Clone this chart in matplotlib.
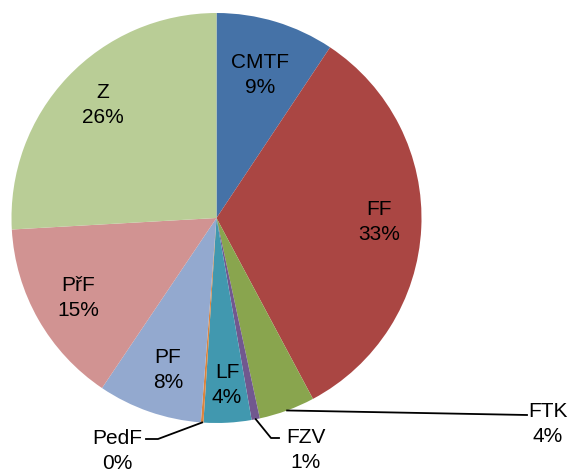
import matplotlib
matplotlib.use("Agg")
import matplotlib.pyplot as plt
import numpy as np

# faculty shares
faculties = ['CMTF', 'FF', 'FTK', 'FZV', 'LF', 'PedF', 'PF', 'PřF', 'Z']
shares = [9.33, 32.8, 4.4, 0.65, 3.75, 0.2, 8.2, 14.65, 25.85]
colors = ['#4572A7', '#AA4643', '#89A54E', '#71588F', '#4198AF',
          '#DB843D', '#93A9CF', '#D19392', '#B9CD96']

plt.rcParams['font.family'] = ['Liberation Sans', 'DejaVu Sans']

W, H = 573, 475
fig = plt.figure(figsize=(W / 100, H / 100), dpi=100)
ax = fig.add_axes([0, 0, 1, 1])
ax.set_xlim(0, W)
ax.set_ylim(0, H)
ax.set_aspect('equal')
ax.axis('off')

cx, cy, R = 216.5, H - 218, 205
wedges, _ = ax.pie(shares, colors=colors, startangle=90, counterclock=False,
                   center=(cx, cy), radius=R, frame=True,
                   wedgeprops=dict(linewidth=0))
ax.set_xlim(0, W)
ax.set_ylim(0, H)
ax.axis('off')

pct = np.array(shares) / sum(shares) * 100
labels = [f"{f}\n{p:.0f}%" for f, p in zip(faculties, pct)]

# label centres in image pixels (x, y from top)
label_pos = {
    'CMTF': (260, 75), 'FF': (379, 222), 'Z': (103, 105), 'PřF': (78, 298),
    'PF': (168, 370), 'LF': (227, 385), 'FTK': (548, 424),
    'FZV': (306, 450), 'PedF': (117, 451),
}
# leader line bend/end points for outside labels (image pixels)
leaders = {
    'FTK': [(527, 415)],
    'FZV': [(271, 438), (279, 438)],
    'PedF': [(158, 439), (146, 439)],
}

for w, f, lab in zip(wedges, faculties, labels):
    x, y = label_pos[f]
    ax.text(x, H - y, lab, ha='center', va='center', fontsize=15,
            linespacing=1.45, color='black')
    if f in leaders:
        mid = np.deg2rad((w.theta1 + w.theta2) / 2)
        pts = [(cx + R * np.cos(mid), cy + R * np.sin(mid))]
        pts += [(px, H - py) for px, py in leaders[f]]
        xs, ys = zip(*pts)
        ax.plot(xs, ys, color='black', lw=1.3)

fig.savefig("out.png", dpi=100)
